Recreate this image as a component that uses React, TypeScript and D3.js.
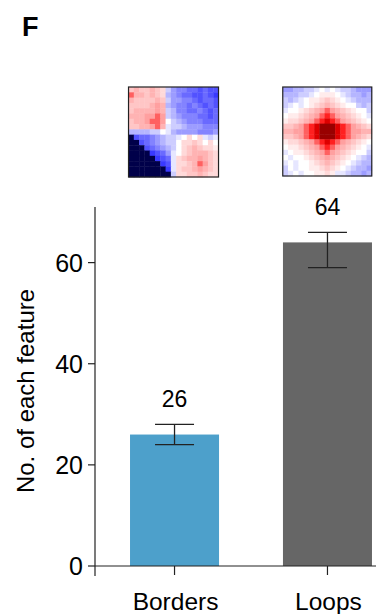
import React from "react";
import * as d3 from "d3";

// Bar chart data: number of each feature, with error bar limits
const categories = ["Borders", "Loops"];
const counts = [26, 64];
const errLow = [24, 59];
const errHigh = [28, 66];
const barColors = ["#4da0cb", "#666666"];
const yTicks = [0, 20, 40, 60];

// Aggregate contact maps, one per feature.
// '0' = neutral, '1'..'9' = enrichment (red), 'a'..'i' = depletion (blue), '#' = masked
const bordersMap = [
  "3433432" + "b" + "deeffgfgg",
  "6443432" + "c" + "deffggfgh",
  "4333343" + "b" + "ddeefgffg",
  "3333454" + "c" + "deefefgfg",
  "3444454" + "b" + "ceeffefgf",
  "4445565" + "b" + "cdeeeffgf",
  "3445665" + "0" + "bcdeeefff",
  "3344564" + "a" + "bbcdddeee",
  "ccccbb0" + "a" + "cddddeeed",
  "#gffedcb" + "b" + "a0202aba",
  "##gfedcb" + "b" + "02232020",
  "###gfedc" + "b" + "02343221",
  "####hgfd" + "a" + "02344432",
  "#####hgf" + "a" + "23445432",
  "######hg" + "a" + "22346532",
  "#######h" + "a" + "23345432",
  "########" + "b" + "22334322",
];

const loopsMap = [
  "ddccbba0a0abbcddd",
  "cccbba01110abccdc",
  "bcba01123210abccc",
  "ba0a0123432100bcb",
  "a001234565432100b",
  "0112345676543210a",
  "12234567876543210",
  "33456789998765432",
  "44556789998765544",
  "33456789998765432",
  "12234567876543210",
  "0112345676543210a",
  "a011234565432100b",
  "0a001234543210abc",
  "a0a0012343210abcc",
  "b0a001123210abccd",
  "ba0a001121aabccdc",
];

const W = 376;
const H = 614;
const FONT = "'Liberation Sans', Arial, Helvetica, sans-serif";

const axisX = 95;
const y = d3.scaleLinear().domain([0, 71]).range([566, 207]);
const x = d3
  .scaleBand<string>()
  .domain(categories)
  .range([axisX, axisX + 312])
  .paddingInner(0.418)
  .paddingOuter(0.229);

const redScale = d3
  .scaleLinear<string>()
  .domain([0, 5, 7.5, 9])
  .range(["#ffffff", "#ffa0a0", "#ff0000", "#990000"]);
const blueScale = d3
  .scaleLinear<string>()
  .domain([0, 9])
  .range(["#ffffff", "#2020ff"]);

function cellValue(ch: string): number {
  if (ch === "#") return NaN;
  if (ch >= "0" && ch <= "9") return +ch;
  return -(ch.charCodeAt(0) - 96);
}

function cellColor(v: number): string {
  if (Number.isNaN(v)) return "#00004a";
  return v >= 0 ? redScale(v) : blueScale(-v);
}

function Heatmap({ rows, x0, y0, size }: { rows: string[]; x0: number; y0: number; size: number }) {
  const n = rows.length;
  const idx = d3.range(n);
  const bx = d3.scaleBand<number>().domain(idx).range([x0, x0 + size]);
  const by = d3.scaleBand<number>().domain(idx).range([y0, y0 + size]);
  return (
    <g>
      {rows.map((row, r) =>
        row.split("").map((ch, c) => (
          <rect
            key={`${r}-${c}`}
            x={bx(c)}
            y={by(r)}
            width={bx.bandwidth() + 0.4}
            height={by.bandwidth() + 0.4}
            fill={cellColor(cellValue(ch))}
          />
        ))
      )}
      <rect x={x0} y={y0} width={size} height={size} fill="none" stroke="#222" strokeWidth={1.2} />
    </g>
  );
}

export default function App() {
  const bw = x.bandwidth();
  const axisColor = "#222";
  return (
    <svg
      width={W}
      height={H}
      viewBox={`0 0 ${W} ${H}`}
      style={{ position: "absolute", left: 0, top: 0, background: "#fff" }}
      fontFamily={FONT}
    >
      <text x={22} y={36} fontSize={27} fontWeight="bold" fill="#000">
        F
      </text>

      {/* contact map thumbnails above each bar */}
      <Heatmap rows={bordersMap} x0={(x("Borders") as number) - 1.5} y0={87} size={90} />
      <Heatmap rows={loopsMap} x0={(x("Loops") as number) - 0.2} y0={87} size={89} />

      {/* bars */}
      {categories.map((c, i) => (
        <rect
          key={c}
          x={x(c)}
          y={y(counts[i])}
          width={bw}
          height={y(0) - y(counts[i])}
          fill={barColors[i]}
        />
      ))}

      {/* error bars */}
      {categories.map((c, i) => {
        const cx = (x(c) as number) + bw / 2;
        const cap = 19.5;
        return (
          <g key={c} stroke={axisColor} strokeWidth={1.3}>
            <line x1={cx} x2={cx} y1={y(errLow[i])} y2={y(errHigh[i])} />
            <line x1={cx - cap} x2={cx + cap} y1={y(errHigh[i])} y2={y(errHigh[i])} />
            <line x1={cx - cap} x2={cx + cap} y1={y(errLow[i])} y2={y(errLow[i])} />
          </g>
        );
      })}

      {/* value labels */}
      {categories.map((c, i) => (
        <text
          key={c}
          x={(x(c) as number) + bw / 2}
          y={y(errHigh[i]) - 17}
          fontSize={23}
          textAnchor="middle"
          fill="#000"
        >
          {counts[i]}
        </text>
      ))}

      {/* y axis */}
      <line x1={axisX} x2={axisX} y1={y(71)} y2={y(0) + 10} stroke={axisColor} strokeWidth={1.2} />
      {yTicks.map((t) => (
        <g key={t}>
          <line x1={axisX - 7} x2={axisX} y1={y(t)} y2={y(t)} stroke={axisColor} strokeWidth={1.2} />
          <text
            x={axisX - 12}
            y={y(t)}
            fontSize={25}
            textAnchor="end"
            dominantBaseline="central"
            fill="#000"
          >
            {t}
          </text>
        </g>
      ))}
      <text
        transform={`translate(25, 391) rotate(-90)`}
        fontSize={24}
        textAnchor="middle"
        dominantBaseline="central"
        fill="#000"
      >
        No. of each feature
      </text>

      {/* x axis */}
      <line x1={axisX} x2={W} y1={y(0)} y2={y(0)} stroke={axisColor} strokeWidth={1.2} />
      {categories.map((c) => {
        const cx = (x(c) as number) + bw / 2;
        return (
          <g key={c}>
            <line x1={cx} x2={cx} y1={y(0)} y2={y(0) + 9} stroke={axisColor} strokeWidth={1.2} />
            <text x={cx + 1} y={610} fontSize={24.5} textAnchor="middle" fill="#000">
              {c}
            </text>
          </g>
        );
      })}
    </svg>
  );
}
